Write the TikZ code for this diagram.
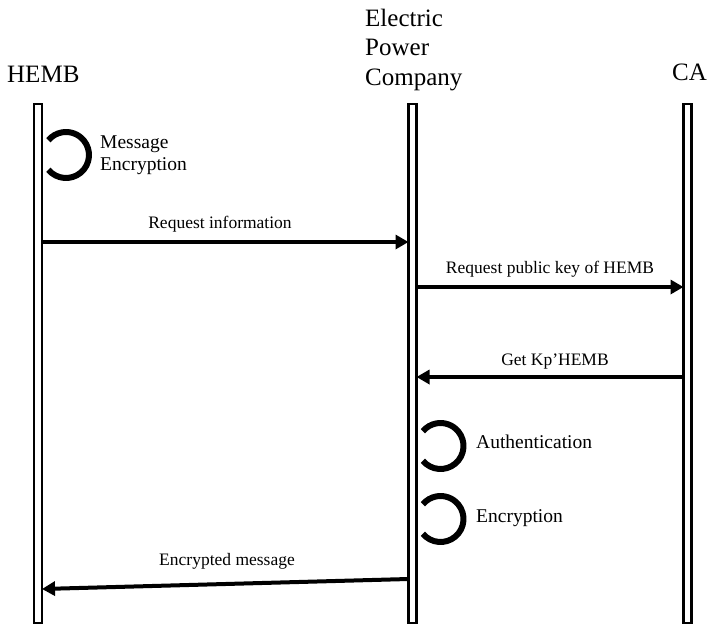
\documentclass[tikz,border=0pt]{standalone}
\usepackage{fontspec}
\setmainfont{Liberation Serif}
\usetikzlibrary{arrows.meta,calc}
\begin{document}
\begin{tikzpicture}[x=1pt,y=-1pt,
  lifeline/.style={draw=black, line width=2.5pt, fill=white, minimum width=8pt,
    minimum height=519pt, inner sep=0pt, outer sep=0pt},
  actor/.style={font=\fontsize{25}{29}\selectfont, anchor=base west, inner sep=0pt},
  msg/.style={line width=4pt, -{Triangle[length=13pt,width=14pt]}},
  msglabel/.style={font=\fontsize{17.5}{20}\selectfont, anchor=base, inner sep=0pt},
  selfloop/.style={line width=6pt},
  looplabel/.style={font=\fontsize{19.5}{23}\selectfont, anchor=base west, inner sep=0pt}]
  \useasboundingbox (0,0) rectangle (709,626);

  % participants
  \node[actor] (hembT) at (7,82) {HEMB};
  \node[actor] (epcT1) at (365,27) {Electric};
  \node[actor] (epcT2) at (365,56) {Power};
  \node[actor] (epcT3) at (365,85) {Company};
  \node[actor] (caT) at (672,81) {CA};

  % lifelines
  \node[lifeline] (hemb) at (38,363.5) {};
  \node[lifeline] (epc) at (412.5,363.5) {};
  \node[lifeline] (ca) at (687.5,363.5) {};

  % self activities
  \coordinate (loopA) at ($(hemb.east |- 0,155)+(24,0)$);
  \coordinate (loopB) at ($(epc.east |- 0,446)+(24,0)$);
  \coordinate (loopC) at ($(epc.east |- 0,519)+(24,0)$);
  \draw[selfloop] (loopA) ++(140:23) arc[start angle=140, end angle=-140, radius=23];
  \draw[selfloop] (loopB) ++(140:23) arc[start angle=140, end angle=-140, radius=23];
  \draw[selfloop] (loopC) ++(140:23) arc[start angle=140, end angle=-140, radius=23];
  \node[looplabel] (lblA1) at (100,148) {Message};
  \node[looplabel] (lblA2) at (100,170) {Encryption};
  \node[looplabel] (lblB) at (476,448) {Authentication};
  \node[looplabel] (lblC) at (476,522) {Encryption};

  % messages
  \draw[msg] (hemb.east |- 0,242) -- (epc.west |- 0,242);
  \node[msglabel] (m1) at (220,228) {Request information};
  \draw[msg] (epc.east |- 0,287) -- (ca.west |- 0,287);
  \node[msglabel] (m2) at (550,273) {Request public key of HEMB};
  \draw[msg] (ca.west |- 0,377) -- (epc.east |- 0,377);
  \node[msglabel] (m3) at (555,365) {Get Kp'HEMB};
  \draw[msg] (epc.west |- 0,579) -- (hemb.east |- 0,589);
  \node[msglabel] (m4) at (227,565) {Encrypted message};
\end{tikzpicture}
\end{document}
